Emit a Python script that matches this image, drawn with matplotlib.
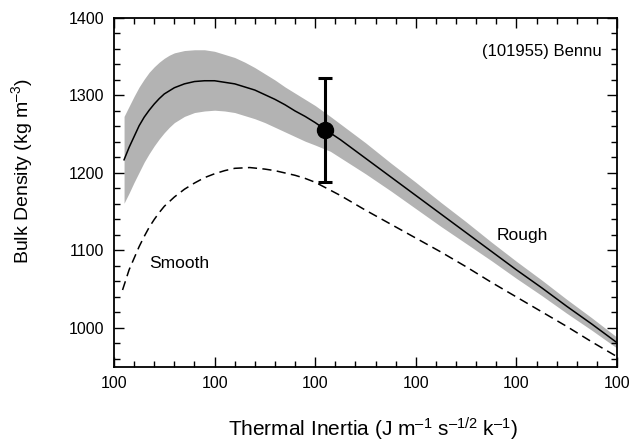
import matplotlib
matplotlib.use("Agg")
import matplotlib.pyplot as plt
from matplotlib.ticker import MultipleLocator, FixedLocator

plt.rcParams['font.family'] = ['Liberation Sans', 'DejaVu Sans']
plt.rcParams['mathtext.fontset'] = 'custom'
plt.rcParams['mathtext.rm'] = 'Liberation Sans'
plt.rcParams['mathtext.it'] = 'Liberation Sans:italic'
plt.rcParams['mathtext.bf'] = 'Liberation Sans:bold'

# Rough model (solid)
rough_x = [0.10, 0.15, 0.20, 0.25, 0.30, 0.35, 0.40, 0.45, 0.50, 0.55, 0.60, 0.70, 0.80, 0.90, 1.00,
           1.10, 1.20, 1.30, 1.40, 1.50, 1.60, 1.70, 1.80, 1.90, 2.00, 2.10, 2.25, 2.50, 2.75, 3.00,
           3.25, 3.50, 3.75, 4.00, 4.25, 4.50, 4.75, 5.00]
rough_y = [1217, 1233, 1247, 1261, 1272, 1281, 1289, 1296, 1302, 1306, 1310, 1315, 1318, 1319, 1319,
           1317, 1315, 1311, 1307, 1301, 1295, 1288, 1280, 1273, 1265, 1256, 1243, 1219, 1195, 1171,
           1147, 1123, 1099, 1075, 1052, 1028, 1005, 981]

# Uncertainty band of the rough model
band_x = [0.10, 0.15, 0.20, 0.25, 0.30, 0.35, 0.40, 0.45, 0.50, 0.55, 0.60, 0.70, 0.80, 0.90, 1.00,
          1.10, 1.20, 1.30, 1.40, 1.50, 1.60, 1.70, 1.80, 1.90, 2.00, 2.15, 2.50, 2.75, 3.00, 3.25,
          3.50, 3.75, 4.00, 4.25, 4.50, 4.75, 5.00]
band_hi = [1273, 1286, 1299, 1311, 1321, 1330, 1337, 1343, 1348, 1352, 1355, 1358, 1359, 1359, 1357,
           1353, 1349, 1343, 1336, 1328, 1320, 1311, 1303, 1295, 1287, 1273, 1239, 1213, 1188, 1162,
           1137, 1111, 1086, 1062, 1037, 1013, 988]
band_lo = [1161, 1174, 1188, 1201, 1214, 1225, 1235, 1244, 1252, 1259, 1265, 1273, 1278, 1280, 1281,
           1280, 1278, 1274, 1270, 1265, 1259, 1253, 1247, 1241, 1236, 1228, 1199, 1177, 1154, 1131,
           1109, 1087, 1064, 1042, 1019, 997, 974]

# Smooth model (dashed)
smooth_x = [0.085, 0.12, 0.15, 0.20, 0.25, 0.30, 0.35, 0.40, 0.45, 0.50, 0.60, 0.70, 0.80, 0.90, 1.00,
            1.10, 1.20, 1.35, 1.50, 1.60, 1.70, 1.80, 1.90, 2.00, 2.25, 2.50, 2.75, 3.00, 3.25, 3.50,
            3.75, 4.00, 4.25, 4.50, 4.75, 5.00]
smooth_y = [1049, 1063, 1075, 1090, 1105, 1118, 1130, 1140, 1149, 1157, 1169, 1179, 1187, 1194, 1199,
            1203, 1206, 1207, 1205, 1203, 1200, 1197, 1193, 1188, 1171, 1152, 1134, 1116, 1098, 1079,
            1059, 1040, 1021, 1002, 982, 963]

# Measured point
point_x = [2.10]
point_y = [1256]
point_err_lo = [68]
point_err_hi = [66]

x_ticks = [0, 1, 2, 3, 4, 5]
x_tick_labels = ["100", "100", "100", "100", "100", "100"]
y_ticks = [1000, 1100, 1200, 1300, 1400]

fig = plt.figure(figsize=(6.34, 4.43), dpi=100)
ax = fig.add_axes([0.1798, 0.1722, 0.7934, 0.7872])

ax.fill_between(band_x, band_lo, band_hi, color='#b3b3b3', linewidth=0, zorder=1)
ax.plot(rough_x, rough_y, color='black', linewidth=1.1, zorder=2)
ax.plot(smooth_x, smooth_y, color='black', linewidth=1.1, linestyle=(0, (6, 3.5)), zorder=2)
ax.errorbar(point_x, point_y, yerr=[point_err_lo, point_err_hi], fmt='o', color='black',
            markersize=11.5, elinewidth=2.2, capsize=5, capthick=2.2, zorder=3)

ax.set_xlim(0, 5)
ax.set_ylim(950, 1400)
ax.xaxis.set_major_locator(FixedLocator(x_ticks))
ax.set_xticklabels(x_tick_labels)
ax.xaxis.set_minor_locator(MultipleLocator(0.2))
ax.yaxis.set_major_locator(FixedLocator(y_ticks))
ax.yaxis.set_minor_locator(MultipleLocator(20))

ax.tick_params(which='both', direction='in', top=True, right=True, labelsize=11.5, width=1.0)
ax.tick_params(which='major', length=7, pad=7)
ax.tick_params(which='minor', length=4)
for s in ax.spines.values():
    s.set_linewidth(1.3)

ax.set_xlabel("Thermal Inertia (J m$^{\u2013 1}$ s$^{\u2013 1/2}$ k$^{\u2013 1}$)", fontsize=15)
ax.xaxis.set_label_coords(0.515, -0.18)
ax.xaxis.label.set_verticalalignment('center')
ax.set_ylabel("Bulk Density (kg m$^{\u2013 3}$)", fontsize=14)
ax.yaxis.set_label_coords(-0.183, 0.56)
ax.yaxis.label.set_verticalalignment('center')

ax.text(0.97, 0.905, "(101955) Bennu", transform=ax.transAxes, ha='right', va='center', fontsize=12)
ax.text(3.80, 1119, "Rough", ha='left', va='center', fontsize=12.5)
ax.text(0.35, 1083, "Smooth", ha='left', va='center', fontsize=12.5)

fig.savefig("out.png", dpi=100)
